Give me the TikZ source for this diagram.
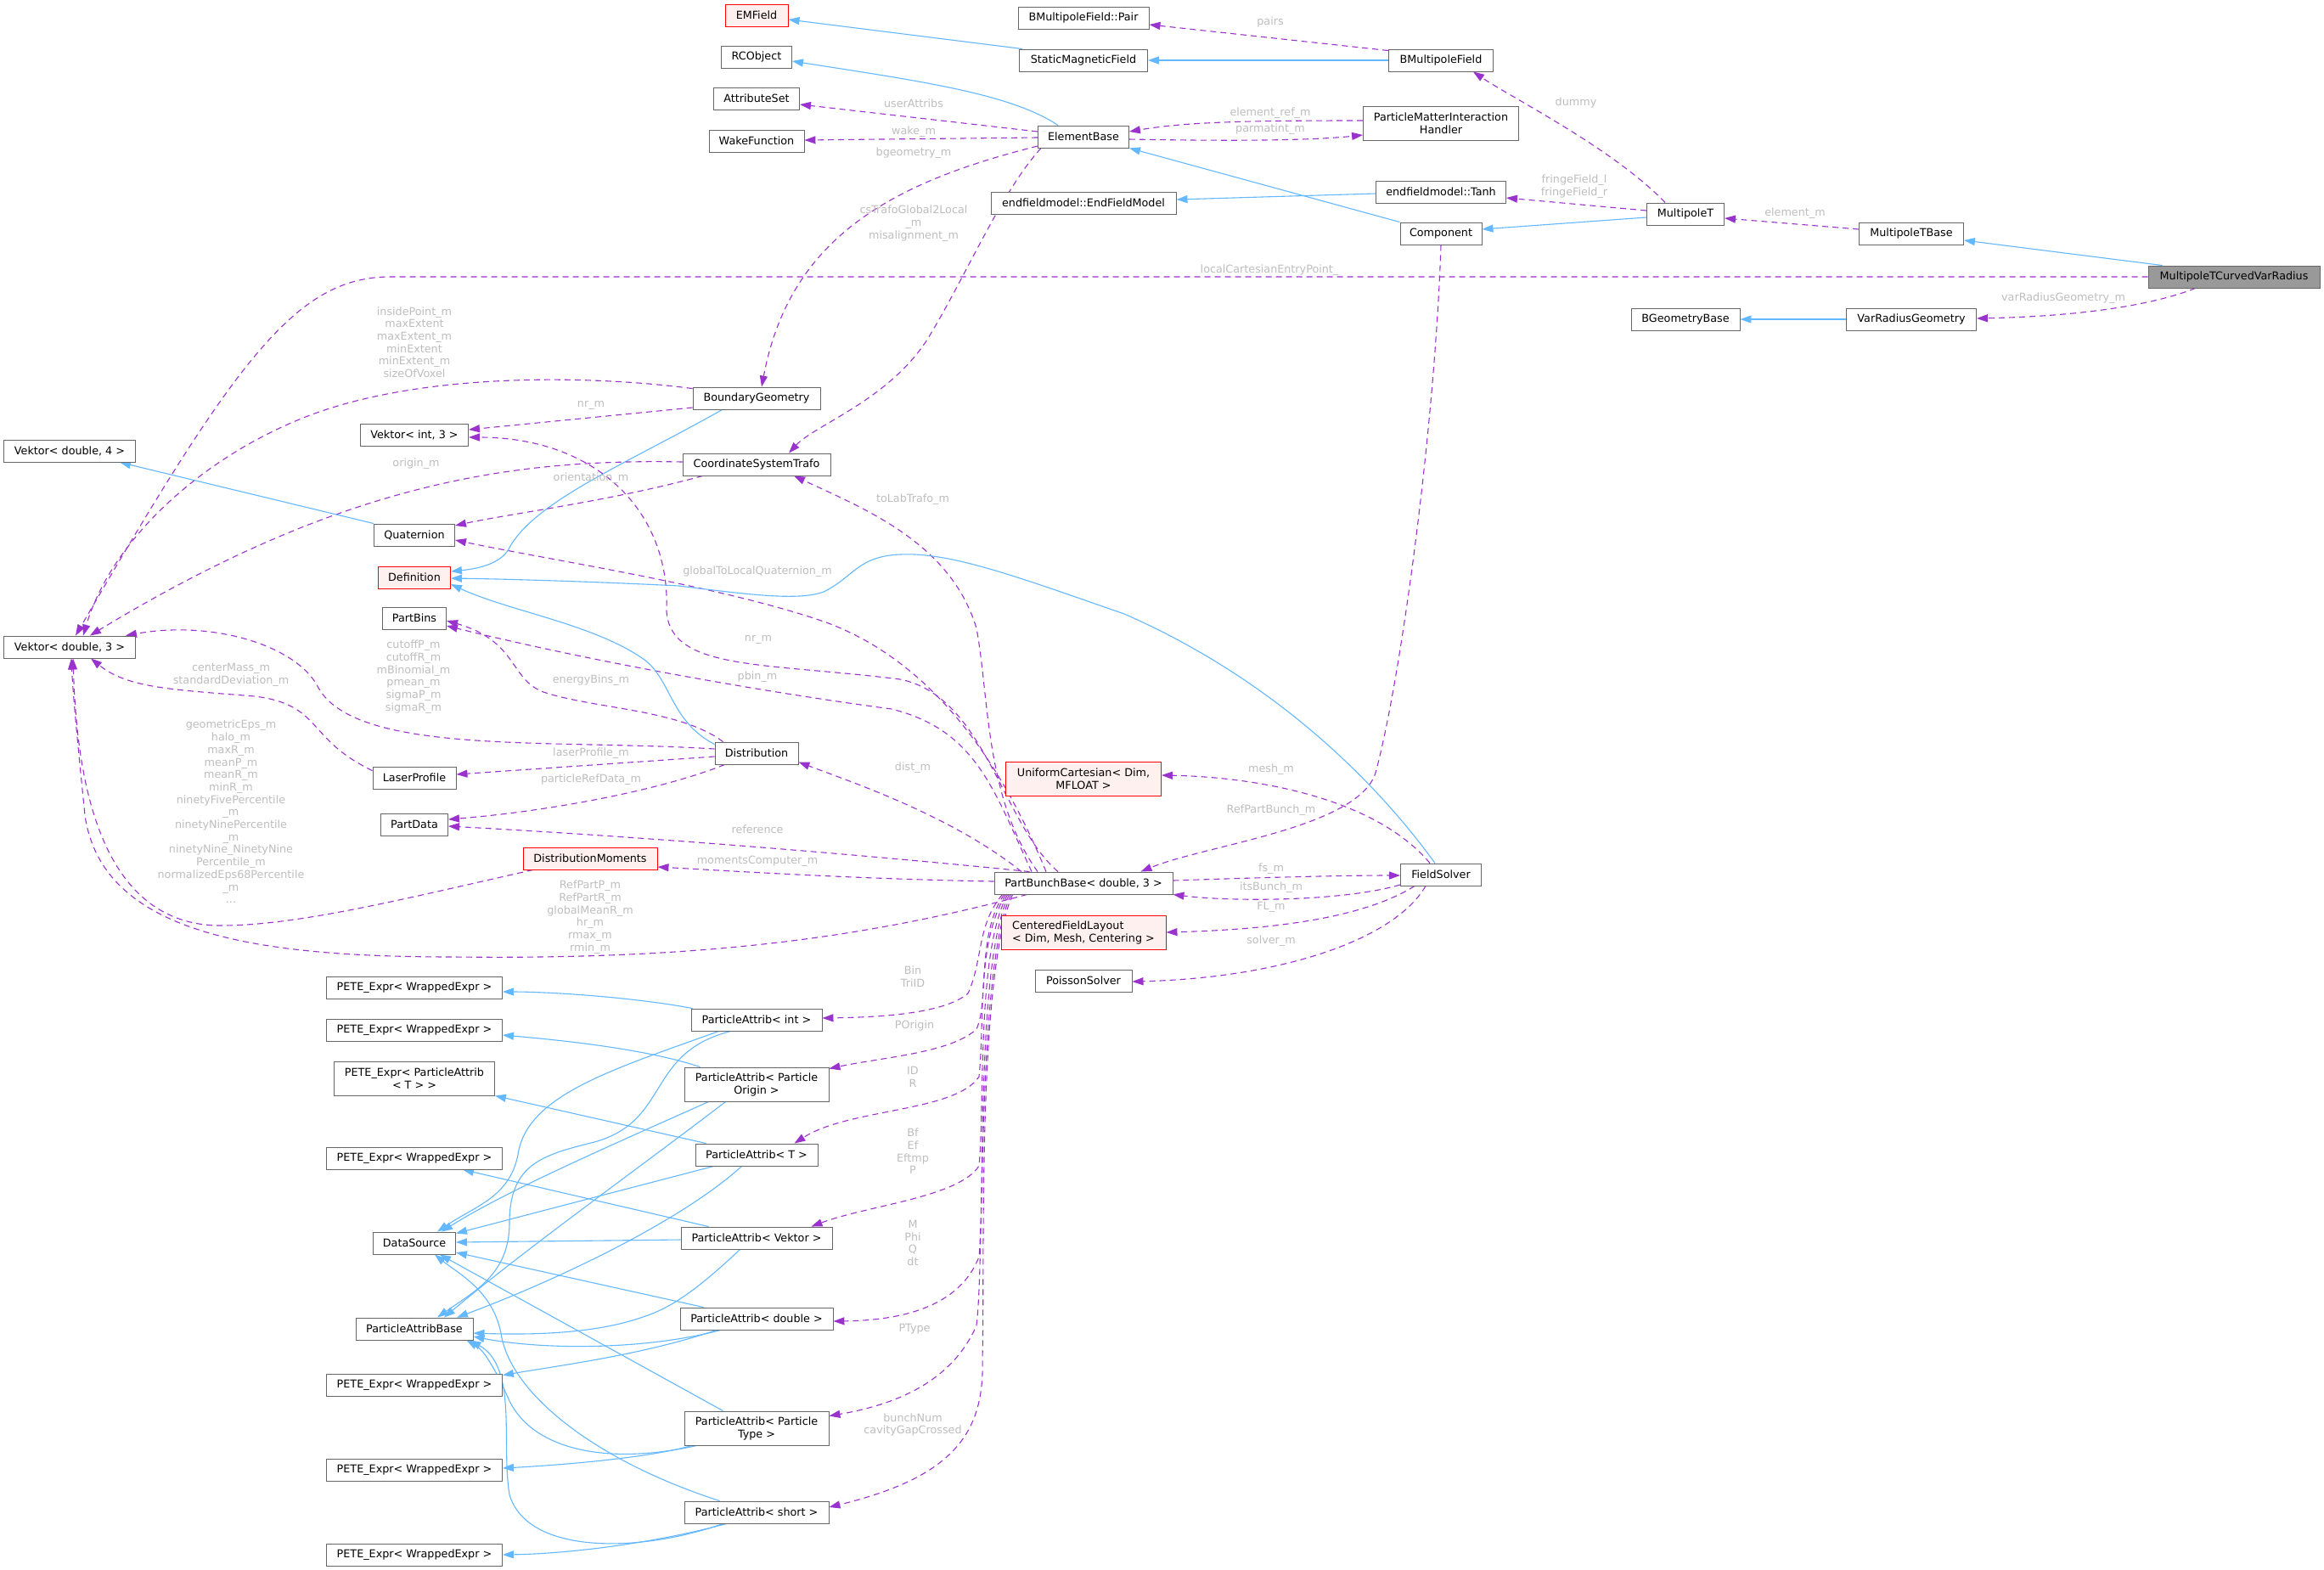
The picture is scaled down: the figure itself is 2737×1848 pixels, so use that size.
\documentclass[tikz,border=0pt]{standalone}
\usepackage{fontspec}
\setmainfont{DejaVu Sans}
\usetikzlibrary{arrows.meta,calc}
\definecolor{boxgray}{HTML}{666666}
\definecolor{mainfill}{HTML}{999999}
\definecolor{redfill}{HTML}{FFF0F0}
\definecolor{inhblue}{HTML}{63B8FF}
\definecolor{usepurple}{HTML}{9A32CD}
\definecolor{lblgray}{HTML}{BEBEBE}
\newcommand\nodefnt{\fontsize{12.75pt}{15pt}\selectfont}
\newcommand\lblfnt{\fontsize{12.75pt}{14.7pt}\selectfont}
\pgfdeclarelayer{bg}
\pgfsetlayers{bg,main}
\tikzset{
  box/.style={draw=boxgray, fill=white, line width=0.9pt, inner sep=0pt, font=\nodefnt, text=black, align=center, rectangle},
  redbox/.style={box, draw=red, fill=redfill},
  mainbox/.style={box, fill=mainfill},
  wh/.style 2 args={minimum width=#1pt, minimum height=#2pt},
  inh/.style={draw=inhblue, line width=1.1pt, -{Triangle[length=13pt,width=9pt]}},
  use/.style={draw=usepurple, line width=1.1pt, dash pattern=on 7pt off 5pt, -{Triangle[length=13pt,width=9pt]}},
  lbl/.style={font=\lblfnt, text=lblgray, align=center, inner sep=0pt},
}
\begin{document}
\begin{tikzpicture}[x=1pt,y=-1pt]
\useasboundingbox (0,0) rectangle (2737,1848);
% ---------------- nodes
\node[redbox, wh={74}{26}] (EMField) at (891,18) {EMField};
\node[box, wh={154}{26}] (BMPair) at (1276,21) {BMultipoleField::Pair};
\node[box, wh={83}{26}] (RCObject) at (891,67) {RCObject};
\node[box, wh={151}{26}] (SMF) at (1276,71) {StaticMagneticField};
\node[box, wh={123}{26}] (BMF) at (1697,71) {BMultipoleField};
\node[box, wh={101}{26}] (AttrSet) at (891,116) {AttributeSet};
\node[box, wh={112}{26}] (WakeFn) at (891,166) {WakeFunction};
\node[box, wh={107}{26}] (ElemBase) at (1276,161) {ElementBase};
\node[box, wh={183}{40}] (PMIH) at (1697,145) {ParticleMatterInteraction\\Handler};
\node[box, wh={218}{26}] (EFModel) at (1276,239) {endfieldmodel::EndFieldModel};
\node[box, wh={153}{26}] (Tanh) at (1697,226) {endfieldmodel::Tanh};
\node[box, wh={96}{26}] (Component) at (1697,275) {Component};
\node[box, wh={91}{26}] (MultT) at (1985,252) {MultipoleT};
\node[box, wh={123}{26}] (MultTBase) at (2251,275) {MultipoleTBase};
\node[mainbox, wh={202}{26}] (MTCVR) at (2631,326) {MultipoleTCurvedVarRadius};
\node[box, wh={128}{26}] (BGeoBase) at (1985,376) {BGeometryBase};
\node[box, wh={153}{26}] (VarRadGeo) at (2251,376) {VarRadiusGeometry};
\node[box, wh={150}{26}] (BoundGeo) at (891,469) {BoundaryGeometry};
\node[box, wh={127}{26}] (VInt3) at (488,512) {Vektor< int, 3 >};
\node[box, wh={155}{26}] (VD4) at (82,531) {Vektor< double, 4 >};
\node[box, wh={174}{26}] (CST) at (891,547) {CoordinateSystemTrafo};
\node[box, wh={95}{26}] (Quat) at (488,630) {Quaternion};
\node[redbox, wh={85}{26}] (Defn) at (488,680) {Definition};
\node[box, wh={75}{26}] (PartBins) at (488,728) {PartBins};
\node[box, wh={155}{26}] (VD3) at (82,762) {Vektor< double, 3 >};
\node[box, wh={98}{26}] (Distr) at (891,887) {Distribution};
\node[box, wh={98}{26}] (LaserProf) at (488,916) {LaserProfile};
\node[redbox, wh={183}{40}] (UnifCart) at (1276,917) {UniformCartesian< Dim,\\MFLOAT >};
\node[box, wh={79}{26}] (PartData) at (488,971) {PartData};
\node[redbox, wh={158}{26}] (DistMom) at (695,1011) {DistributionMoments};
\node[box, wh={210}{26}] (PBB) at (1276,1040) {PartBunchBase< double, 3 >};
\node[box, wh={95}{26}] (FieldSolver) at (1697,1030) {FieldSolver};
\node[redbox, wh={194}{40}, align=left] (CFL) at (1276,1098) {CenteredFieldLayout\\< Dim, Mesh, Centering >};
\node[box, wh={114}{26}] (Poisson) at (1276,1155) {PoissonSolver};
\node[box, wh={207}{26}] (PETEa) at (488,1163) {PETE\_Expr< WrappedExpr >};
\node[box, wh={154}{26}] (PAint) at (891,1201) {ParticleAttrib< int >};
\node[box, wh={207}{26}] (PETEb) at (488,1213) {PETE\_Expr< WrappedExpr >};
\node[box, wh={189}{40}] (PETEPAT) at (488,1270) {PETE\_Expr< ParticleAttrib\\< T > >};
\node[box, wh={170}{40}] (PAPO) at (891,1277) {ParticleAttrib< Particle\\Origin >};
\node[box, wh={144}{26}] (PAT) at (891,1360) {ParticleAttrib< T >};
\node[box, wh={207}{26}] (PETEd) at (488,1364) {PETE\_Expr< WrappedExpr >};
\node[box, wh={178}{26}] (PAVek) at (891,1458) {ParticleAttrib< Vektor >};
\node[box, wh={97}{26}] (DataSource) at (488,1464) {DataSource};
\node[box, wh={180}{26}] (PAdbl) at (891,1553) {ParticleAttrib< double >};
\node[box, wh={138}{26}] (PAB) at (488,1565) {ParticleAttribBase};
\node[box, wh={207}{26}] (PETEe) at (488,1631) {PETE\_Expr< WrappedExpr >};
\node[box, wh={170}{40}] (PAPT) at (891,1682) {ParticleAttrib< Particle\\Type >};
\node[box, wh={207}{26}] (PETEf) at (488,1731) {PETE\_Expr< WrappedExpr >};
\node[box, wh={170}{26}] (PAshort) at (891,1781) {ParticleAttrib< short >};
\node[box, wh={207}{26}] (PETEg) at (488,1831) {PETE\_Expr< WrappedExpr >};
% ---------------- edges
\begin{pgfonlayer}{bg}
\fill[white] (0,0) rectangle (2737,1848);
% top area
\draw[inh] ($(SMF.north west)+(4,0)$) -- ($(EMField.east)+(0,5)$);
\draw[inh] (BMF.west) -- (SMF.east);
\draw[use] ($(BMF.north west)+(0,2)$) -- ($(BMPair.east)+(0,8)$);
\draw[inh] ($(ElemBase.north west)+(24,0)$) .. controls (1190,110) and (1080,95) .. ($(RCObject.east)+(0,5)$);
\draw[use] ($(ElemBase.west)+(0,-6)$) -- ($(AttrSet.east)+(0,7)$);
\draw[use] ($(ElemBase.west)+(0,1)$) -- ($(WakeFn.east)+(0,-1)$);
\draw[use] ($(ElemBase.west)+(0,11)$) .. controls (1050,215) and (930,280) .. ($(BoundGeo.north)+(6,0)$);
\draw[use] ($(ElemBase.south west)+(4,0)$) .. controls (1180,225) and (1140,320) .. (1095,395) .. controls (1050,470) and (960,500) .. ($(CST.north)+(38,0)$);
\draw[use] ($(PMIH.west)+(0,-3)$) .. controls (1480,142) and (1400,143) .. ($(ElemBase.east)+(0,-6)$);
\draw[use] ($(ElemBase.east)+(0,3)$) .. controls (1440,166) and (1540,166) .. ($(PMIH.west)+(0,14)$);
\draw[inh] (Component.north west) -- (ElemBase.south east);
\draw[inh] ($(Tanh.west)+(0,2)$) -- ($(EFModel.east)+(0,-4)$);
\draw[inh] ($(MultT.west)+(0,4)$) -- ($(Component.east)+(0,-5)$);
\draw[use] ($(MultT.north west)+(22,0)$) .. controls (1900,175) and (1780,115) .. ($(BMF.south east)+(-24,0)$);
\draw[use] ($(MultT.west)+(0,-4)$) -- ($(Tanh.east)+(0,7)$);
\draw[use] ($(MultTBase.west)+(0,-5)$) -- ($(MultT.east)+(0,5)$);
\draw[inh] ($(MTCVR.north west)+(17,0)$) -- ($(MultTBase.east)+(0,8)$);
\draw[use] ($(MTCVR.south west)+(56,0)$) .. controls (2520,365) and (2420,373) .. ($(VarRadGeo.east)+(0,-1)$);
\draw[inh] (VarRadGeo.west) -- (BGeoBase.east);
\draw[use] (MTCVR.west) -- (460,326) .. controls (350,326) and (280,420) .. ($(VD3.north)+(7,0)$);
\draw[use] (Component.south) .. controls (1690,500) and (1650,800) .. (1620,910) .. controls (1600,975) and (1420,995) .. ($(PBB.north east)+(-38,0)$);
% boundary geometry / CST / Quaternion
\draw[use] ($(BoundGeo.north west)+(0,2)$) .. controls (680,440) and (480,440) .. (350,495) .. controls (230,545) and (130,640) .. ($(VD3.north)+(16,0)$);
\draw[use] ($(BoundGeo.west)+(0,11)$) -- ($(VInt3.east)+(0,-6)$);
\draw[inh] ($(BoundGeo.south west)+(35,0)$) .. controls (740,545) and (630,590) .. (600,645) .. controls (590,665) and (560,670) .. ($(Defn.east)+(0,-7)$);
\draw[use] ($(CST.west)+(0,-3)$) .. controls (600,540) and (400,570) .. ($(VD3.north east)+(-54,0)$);
\draw[use] ($(CST.south west)+(24,0)$) .. controls (720,590) and (600,605) .. ($(Quat.east)+(0,-11)$);
\draw[inh] (Quat.north west) -- ($(VD4.south)+(59,0)$);
% PartBunchBase upward
\draw[use] ($(PBB.north)+(-30,0)$) .. controls (1180,970) and (1160,820) .. (1060,800) .. controls (900,780) and (790,790) .. (785,720) .. controls (790,600) and (700,515) .. ($(VInt3.east)+(0,3)$);
\draw[use] ($(PBB.north)+(-44,0)$) .. controls (1180,900) and (1100,780) .. (973,733) .. controls (850,690) and (650,660) .. ($(Quat.east)+(0,6)$);
\draw[use] ($(PBB.north)+(-54,0)$) .. controls (1160,940) and (1165,820) .. (1150,740) .. controls (1120,640) and (1020,600) .. ($(CST.south)+(44,0)$);
\draw[use] ($(PBB.north)+(-61,0)$) .. controls (1170,930) and (1150,860) .. (1050,835) .. controls (900,815) and (700,780) .. ($(PartBins.east)+(0,9)$);
\draw[use] ($(PBB.north)+(-73,0)$) .. controls (1120,960) and (1000,920) .. ($(Distr.south east)+(0,-3)$);
\draw[use] ($(PBB.north west)+(42,0)$) .. controls (1000,1005) and (750,985) .. ($(PartData.east)+(0,2)$);
\draw[use] ($(PBB.west)+(0,-2)$) .. controls (1000,1035) and (850,1025) .. ($(DistMom.east)+(0,10)$);
\draw[use] ($(PBB.south west)+(39,0)$) .. controls (1000,1110) and (800,1130) .. (536,1127) .. controls (300,1127) and (120,1100) .. (100,960) .. controls (92,880) and (86,820) .. ($(VD3.south)+(2,0)$);
% FieldSolver
\draw[use] ($(PBB.east)+(0,-3)$) .. controls (1500,1033) and (1580,1031) .. ($(FieldSolver.west)+(0,1)$);
\draw[use] ($(FieldSolver.west)+(0,12)$) .. controls (1580,1062) and (1450,1062) .. (PBB.south east);
\draw[use] ($(FieldSolver.north)+(-13,0)$) .. controls (1620,940) and (1480,915) .. ($(UnifCart.east)+(0,-4)$);
\draw[use] ($(FieldSolver.south)+(-31,0)$) .. controls (1600,1085) and (1480,1095) .. (CFL.east);
\draw[use] ($(FieldSolver.south)+(-18,0)$) .. controls (1640,1110) and (1500,1152) .. ($(Poisson.east)+(0,1)$);
\draw[inh] ($(FieldSolver.north)+(-7,0)$) .. controls (1620,920) and (1500,800) .. (1324,723) .. controls (1200,680) and (1120,650) .. (1060,653) .. controls (1010,655) and (1005,680) .. (970,697) .. controls (940,708) and (880,700) .. (800,690) .. controls (700,685) and (600,682) .. ($(Defn.east)+(0,1)$);
% Distribution
\draw[inh] ($(Distr.north west)+(0,3)$) .. controls (790,850) and (790,800) .. (759,777) .. controls (700,735) and (600,720) .. ($(Defn.east)+(0,8)$);
\draw[use] ($(Distr.west)+(0,-5)$) .. controls (650,870) and (420,890) .. (375,810) .. controls (350,760) and (250,730) .. ($(VD3.north east)+(-12,0)$);
\draw[use] ($(Distr.north west)+(10,0)$) .. controls (800,835) and (700,835) .. (640,815) .. controls (600,800) and (610,755) .. ($(PartBins.east)+(0,3)$);
\draw[use] ($(Distr.west)+(0,4)$) -- ($(LaserProf.east)+(0,-4)$);
\draw[use] ($(Distr.south west)+(12,0)$) .. controls (780,930) and (650,955) .. ($(PartData.east)+(0,-6)$);
\draw[use] ($(LaserProf.north west)+(0,5)$) .. controls (360,870) and (380,830) .. (300,820) .. controls (200,812) and (150,810) .. ($(VD3.south)+(25,0)$);
\draw[use] ($(DistMom.south west)+(12,0)$) .. controls (470,1060) and (350,1090) .. (260,1090) .. controls (110,1090) and (90,900) .. ($(VD3.south)+(4,0)$);
% PartBunchBase downward bundle
\draw[use] ($(PBB.south west)+(10,0)$) .. controls (1150,1090) and (1158,1130) .. (1140,1170) .. controls (1110,1195) and (1030,1198) .. ($(PAint.east)+(0,-2)$);
\draw[use] ($(PBB.south west)+(12,0)$) .. controls (1150,1100) and (1165,1180) .. (1150,1212) .. controls (1120,1240) and (1040,1245) .. ($(PAPO.north east)+(0,2)$);
\draw[use] ($(PBB.south west)+(14,0)$) .. controls (1150,1110) and (1160,1200) .. (1153,1268) .. controls (1125,1310) and (1000,1305) .. ($(PAT.north east)+(-28,0)$);
\draw[use] ($(PBB.south west)+(16,0)$) .. controls (1150,1120) and (1160,1300) .. (1153,1373) .. controls (1130,1410) and (1020,1420) .. ($(PAVek.north east)+(-25,0)$);
\draw[use] ($(PBB.south west)+(18,0)$) .. controls (1150,1130) and (1160,1400) .. (1153,1480) .. controls (1130,1540) and (1060,1555) .. ($(PAdbl.east)+(0,3)$);
\draw[use] ($(PBB.south west)+(20,0)$) .. controls (1150,1140) and (1160,1480) .. (1150,1561) .. controls (1120,1630) and (1050,1655) .. ($(PAPT.north east)+(0,6)$);
\draw[use] ($(PBB.south west)+(22,0)$) .. controls (1150,1150) and (1160,1500) .. (1157,1600) .. controls (1160,1690) and (1120,1740) .. ($(PAshort.east)+(0,-6)$);
% inheritance in the ParticleAttrib family
\draw[inh] ($(PAint.north west)+(2,0)$) .. controls (750,1175) and (650,1168) .. ($(PETEa.east)+(0,5)$);
\draw[inh] ($(PAint.south west)+(33,0)$) .. controls (720,1260) and (620,1290) .. (610,1360) .. controls (600,1410) and (560,1420) .. ($(DataSource.north)+(27,0)$);
\draw[inh] ($(PAint.south west)+(47,0)$) .. controls (760,1240) and (790,1320) .. (700,1345) .. controls (640,1360) and (600,1370) .. (600,1440) .. controls (600,1500) and (560,1520) .. ($(PAB.north)+(27,0)$);
\draw[inh] ($(PAPO.north west)+(19,0)$) .. controls (760,1235) and (660,1225) .. ($(PETEb.east)+(0,6)$);
\draw[inh] ($(PAPO.south west)+(29,0)$) .. controls (740,1340) and (600,1400) .. ($(DataSource.north)+(32,0)$);
\draw[inh] ($(PAPO.south west)+(49,0)$) .. controls (760,1370) and (620,1470) .. ($(PAB.north)+(35,0)$);
\draw[inh] ($(PAT.north west)+(13,0)$) -- (PETEPAT.south east);
\draw[inh] ($(PAT.south west)+(22,0)$) -- ($(DataSource.north east)+(0,2)$);
\draw[inh] ($(PAT.south west)+(55,0)$) .. controls (800,1440) and (650,1510) .. ($(PAB.north)+(50,0)$);
\draw[inh] ($(PAVek.north west)+(33,0)$) -- ($(PETEd.south)+(57,0)$);
\draw[inh] ($(PAVek.west)+(0,2)$) -- ($(DataSource.east)+(0,-1)$);
\draw[inh] ($(PAVek.south west)+(70,0)$) .. controls (820,1520) and (790,1540) .. (760,1550) .. controls (700,1572) and (620,1572) .. ($(PAB.east)+(0,5)$);
\draw[inh] ($(PAdbl.north west)+(28,0)$) -- ($(DataSource.east)+(0,11)$);
\draw[inh] ($(PAdbl.south west)+(48,0)$) .. controls (760,1590) and (640,1590) .. ($(PAB.east)+(0,9)$);
\draw[inh] ($(PAdbl.south west)+(43,0)$) .. controls (760,1595) and (660,1608) .. ($(PETEe.north east)+(0,2)$);
\draw[inh] ($(PAPT.north west)+(46,0)$) -- ($(DataSource.south)+(30,0)$);
\draw[inh] ($(PAPT.south west)+(15,0)$) .. controls (720,1725) and (630,1710) .. (600,1650) .. controls (585,1615) and (570,1590) .. ($(PAB.south east)+(-8,0)$);
\draw[inh] ($(PAPT.south west)+(9,0)$) .. controls (760,1718) and (650,1726) .. ($(PETEf.east)+(0,-2)$);
\draw[inh] ($(PAshort.north west)+(42,0)$) .. controls (700,1720) and (600,1640) .. (590,1570) .. controls (580,1520) and (540,1500) .. ($(DataSource.south)+(24,0)$);
\draw[inh] ($(PAshort.south west)+(46,0)$) .. controls (750,1830) and (620,1830) .. (600,1760) .. controls (590,1700) and (610,1610) .. ($(PAB.south east)+(-4,0)$);
\draw[inh] ($(PAshort.south west)+(50,0)$) .. controls (760,1820) and (660,1830) .. (PETEg.east);
\end{pgfonlayer}
% ---------------- edge labels
\node[lbl] (l1) at (1496,26) {pairs};
\node[lbl] (l2) at (1076,122) {userAttribs};
\node[lbl] (l3) at (1076,155) {wake\_m};
\node[lbl] (l4) at (1076,180) {bgeometry\_m};
\node[lbl] (l5) at (1076,263) {csTrafoGlobal2Local\\\_m\\misalignment\_m};
\node[lbl] (l6) at (1496,133) {element\_ref\_m};
\node[lbl] (l7) at (1496,152) {parmatint\_m};
\node[lbl] (l8) at (1856,121) {dummy};
\node[lbl] (l9) at (1854,220) {fringeField\_l\\fringeField\_r};
\node[lbl] (l10) at (2114,251) {element\_m};
\node[lbl] (l11) at (2430,351) {varRadiusGeometry\_m};
\node[lbl] (l12) at (1495,318) {localCartesianEntryPoint\_};
\node[lbl] (l13) at (1497,954) {RefPartBunch\_m};
\node[lbl] (l14) at (488,403) {insidePoint\_m\\maxExtent\\maxExtent\_m\\minExtent\\minExtent\_m\\sizeOfVoxel};
\node[lbl] (l15) at (696,477) {nr\_m};
\node[lbl] (l16) at (490,546) {origin\_m};
\node[lbl] (l17) at (696,563) {orientation\_m};
\node[lbl] (l18) at (893,753) {nr\_m};
\node[lbl] (l19) at (892,673) {globalToLocalQuaternion\_m};
\node[lbl] (l20) at (1075,588) {toLabTrafo\_m};
\node[lbl] (l21) at (892,797) {pbin\_m};
\node[lbl] (l22) at (1075,904) {dist\_m};
\node[lbl] (l23) at (892,977) {reference};
\node[lbl] (l24) at (892,1014) {momentsComputer\_m};
\node[lbl] (l25) at (695,1080) {RefPartP\_m\\RefPartR\_m\\globalMeanR\_m\\hr\_m\\rmax\_m\\rmin\_m};
\node[lbl] (l26) at (1497,1023) {fs\_m};
\node[lbl] (l27) at (1497,1045) {itsBunch\_m};
\node[lbl] (l28) at (1497,906) {mesh\_m};
\node[lbl] (l29) at (1497,1068) {FL\_m};
\node[lbl] (l30) at (1497,1108) {solver\_m};
\node[lbl] (l31) at (487,797) {cutoffP\_m\\cutoffR\_m\\mBinomial\_m\\pmean\_m\\sigmaP\_m\\sigmaR\_m};
\node[lbl] (l32) at (696,801) {energyBins\_m};
\node[lbl] (l33) at (696,887) {laserProfile\_m};
\node[lbl] (l34) at (696,918) {particleRefData\_m};
\node[lbl] (l35) at (272,795) {centerMass\_m\\standardDeviation\_m};
\node[lbl] (l36) at (272,956) {geometricEps\_m\\halo\_m\\maxR\_m\\meanP\_m\\meanR\_m\\minR\_m\\ninetyFivePercentile\\\_m\\ninetyNinePercentile\\\_m\\ninetyNine\_NinetyNine\\Percentile\_m\\normalizedEps68Percentile\\\_m\\...};
\node[lbl] (l37) at (1075,1150) {Bin\\TriID};
\node[lbl] (l38) at (1077,1208) {POrigin};
\node[lbl] (l39) at (1075,1268) {ID\\R};
\node[lbl] (l40) at (1075,1356) {Bf\\Ef\\Eftmp\\P};
\node[lbl] (l41) at (1075,1464) {M\\Phi\\Q\\dt};
\node[lbl] (l42) at (1077,1565) {PType};
\node[lbl] (l43) at (1075,1678) {bunchNum\\cavityGapCrossed};
\end{tikzpicture}
\end{document}
